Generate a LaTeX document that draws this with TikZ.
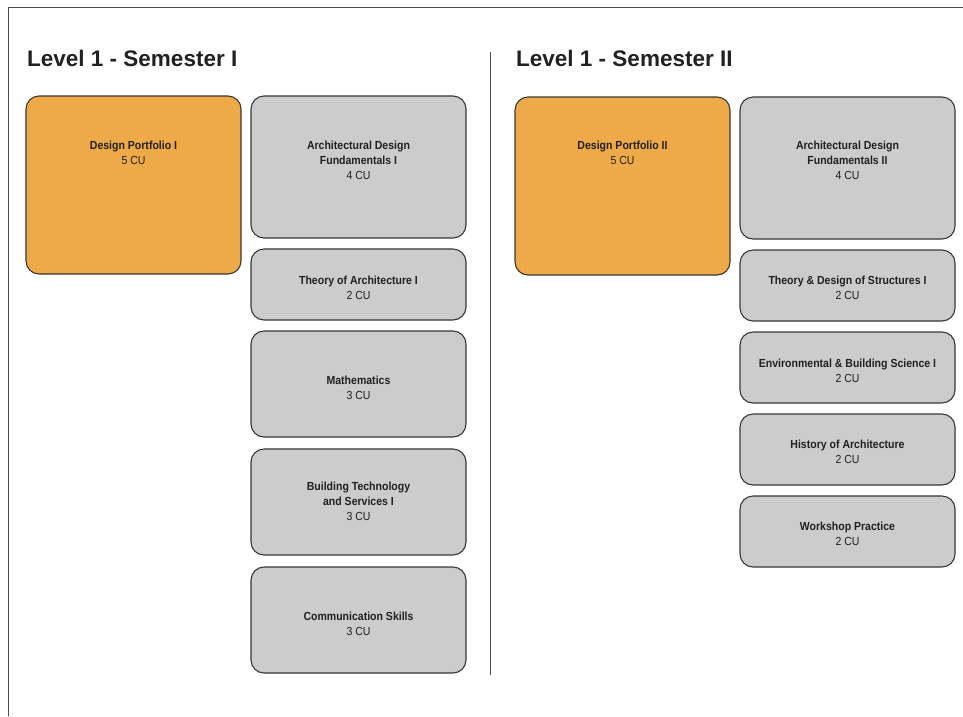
\documentclass[tikz,border=0pt]{standalone}
\usepackage{fontspec}
\setmainfont{Liberation Sans}
\newfontfamily\coursefont{Liberation Sans}[FakeStretch=0.9]
\begin{document}
\begin{tikzpicture}[x=1pt,y=-1pt,
  framestroke/.style={draw=black!70,line width=1pt},
  heading/.style={anchor=base west,inner sep=0pt,text=black!87,
    font=\fontsize{22.5}{27}\selectfont\bfseries},
  course/.style={draw=black!78,line width=1.1pt,rounded corners=13pt,inner sep=0pt},
  portfolio/.style={course,fill=orangefill},
  regular/.style={course,fill=grayfill},
  coursetext/.style={align=center,inner sep=0pt,text=black!87,
    font=\coursefont\fontsize{11.7}{15}\selectfont}
]
\definecolor{orangefill}{HTML}{EEAA48}
\definecolor{grayfill}{HTML}{CBCCCB}
\useasboundingbox (0,0) rectangle (963,716);
\fill[white] (0,0) rectangle (963,716);

% outer frame (left and top edges)
\coordinate (frameTL) at (8.5,7.5);
\coordinate (frameTR) at (963,7.5);
\coordinate (frameBL) at (8.5,716);
\draw[framestroke] (frameBL) -- (frameTL) -- (frameTR);

% semester divider
\coordinate (divTop) at (490.5,52);
\coordinate (divBot) at (490.5,675);
\draw[framestroke] (divTop) -- (divBot);

% headings
\node[heading] (h1) at (27,66) {Level 1 - Semester I};
\node[heading] (h2) at (516,66) {Level 1 - Semester II};

% ---------- Semester I ----------
\path[portfolio] (26,96) rectangle (241,274);
\node[coursetext] (dp1) at (133.5,153) {\bfseries Design Portfolio I\\5 CU};

\path[regular] (251,96) rectangle (466,238);
\node[coursetext] (adf1) at (358.5,160.5) {\bfseries Architectural Design\\\bfseries Fundamentals I\\4 CU};

\path[regular] (251,249) rectangle (466,320);
\node[coursetext] (ta1) at (358.5,288) {\bfseries Theory of Architecture I\\2 CU};

\path[regular] (251,331) rectangle (466,437);
\node[coursetext] (math) at (358.5,388) {\bfseries Mathematics\\3 CU};

\path[regular] (251,449) rectangle (466,555);
\node[coursetext] (bts1) at (358.5,501.5) {\bfseries Building Technology\\\bfseries and Services I\\3 CU};

\path[regular] (251,567) rectangle (466,673);
\node[coursetext] (comm) at (358.5,624) {\bfseries Communication Skills\\3 CU};

% ---------- Semester II ----------
\path[portfolio] (515,97) rectangle (730,275);
\node[coursetext] (dp2) at (622.5,153) {\bfseries Design Portfolio II\\5 CU};

\path[regular] (740,97) rectangle (955,239);
\node[coursetext] (adf2) at (847.5,160.5) {\bfseries Architectural Design\\\bfseries Fundamentals II\\4 CU};

\path[regular] (740,250) rectangle (955,321);
\node[coursetext] (tds1) at (847.5,288) {\bfseries Theory \& Design of Structures I\\2 CU};

\path[regular] (740,332) rectangle (955,403);
\node[coursetext] (ebs1) at (847.5,371) {\bfseries Environmental \& Building Science I\\2 CU};

\path[regular] (740,414) rectangle (955,485);
\node[coursetext] (hist) at (847.5,452) {\bfseries History of Architecture\\2 CU};

\path[regular] (740,496) rectangle (955,567);
\node[coursetext] (work) at (847.5,534) {\bfseries Workshop Practice\\2 CU};
\end{tikzpicture}
\end{document}
